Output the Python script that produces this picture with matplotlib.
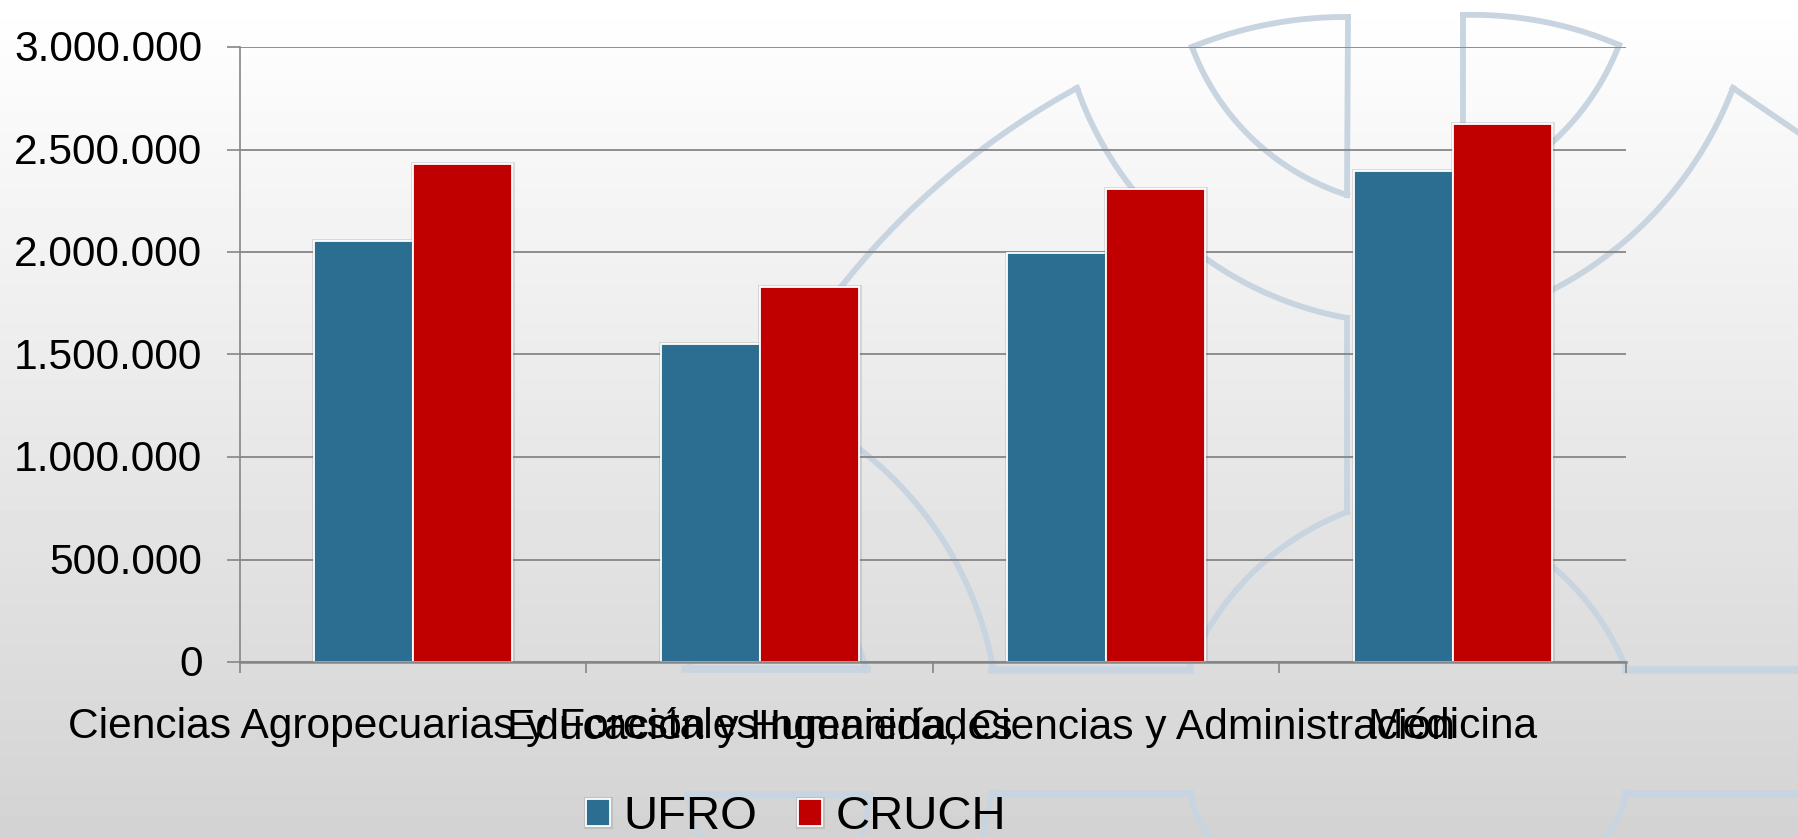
import numpy as np
import matplotlib
matplotlib.use("Agg")
import matplotlib.pyplot as plt
import matplotlib.patheffects as pe
from matplotlib.ticker import FuncFormatter
from matplotlib.transforms import ScaledTranslation

plt.rcParams['font.family'] = ['Liberation Sans', 'DejaVu Sans']

categories = ["Ciencias Agropecuarias y Forestales", "Educación y Humanidades",
              "Ingeniería, Ciencias y Administración", "Medicina"]
ufro = [2055000, 1552000, 1997000, 2397000]
cruch = [2429000, 1829000, 2307000, 2626000]
yticks = [0, 500000, 1000000, 1500000, 2000000, 2500000, 3000000]

W, H = 1799, 838
blue = "#2C6E91"
red = "#C00000"
grey = "#868686"
mark = "#C8D5E0"

fig = plt.figure(figsize=(W / 100, H / 100), dpi=100)

# background gradient and the watermark, both in picture pixels
bg = fig.add_axes([0, 0, 1, 1])
shade = np.linspace(255, 211, 256).reshape(-1, 1)
bg.imshow(shade, cmap="gray", vmin=0, vmax=255, aspect="auto", extent=[0, W, H, 0])
bg.set_xlim(0, W)
bg.set_ylim(H, 0)
bg.axis("off")

def circle_arc(p0, via, p1, n=40):
    # circle through the three points
    a = np.array([[p0[0] - via[0], p0[1] - via[1]], [p1[0] - via[0], p1[1] - via[1]]]) * 2.0
    b = np.array([p0[0]**2 + p0[1]**2 - via[0]**2 - via[1]**2, p1[0]**2 + p1[1]**2 - via[0]**2 - via[1]**2])
    cx, cy = np.linalg.solve(a, b)
    r = np.hypot(p0[0] - cx, p0[1] - cy)
    t0 = np.arctan2(p0[1] - cy, p0[0] - cx)
    tv = np.arctan2(via[1] - cy, via[0] - cx)
    t1 = np.arctan2(p1[1] - cy, p1[0] - cx)
    d1 = (tv - t0 + np.pi) % (2 * np.pi) - np.pi
    d2 = (t1 - tv + np.pi) % (2 * np.pi) - np.pi
    t = np.linspace(t0, t0 + d1 + d2, n)
    return cx + r * np.cos(t), cy + r * np.sin(t)

def draw_arcs(arcs, lw=4.2):
    for a in arcs:
        if len(a) == 2:
            xs, ys = [a[0][0], a[1][0]], [a[0][1], a[1][1]]
        else:
            xs, ys = circle_arc(*a)
        bg.plot(xs, ys, color=mark, lw=lw, solid_capstyle="projecting", scalex=False, scaley=False)

draw_arcs([
    # top pair
    [(1192, 47), (1265, 25), (1348, 17)],
    [(1348, 17), (1347, 195)],
    [(1347, 195), (1265, 150), (1192, 47)],
    [(1463, 15), (1545, 22), (1619, 45)],
    [(1463, 15), (1463, 195)],
    [(1619, 45), (1560, 135), (1463, 195)],
    # centre arm
    [(1077, 88), (985, 147), (841, 287)],
    [(841, 287), (760, 430), (690, 665)],
    [(1077, 88), (1131, 187), (1347, 318)],
    [(1347, 318), (1347, 512)],
    [(1347, 512), (1270, 557), (1189, 668)],
    [(840, 435), (953, 557), (993, 668)],
    [(867, 670), (858, 645)],
    # right arm
    [(1733, 88), (1660, 207), (1552, 290)],
    [(1733, 88), (1799, 133)],
    [(1553, 567), (1605, 627), (1626, 668)],
    # legend area
    [(1191, 793), (1198, 818), (1212, 838)],
    [(1626, 793), (1618, 818), (1603, 838)],
    [(993, 793), (986, 818), (983, 838)],
    [(688, 795), (693, 818), (700, 838)],
    [(870, 795), (866, 818), (862, 838)],
])
draw_arcs([
    [(685, 669), (867, 669)],
    [(992, 670), (1190, 670)],
    [(1626, 670), (1799, 670)],
    [(688, 795), (870, 795)],
    [(992, 794), (1190, 794)],
    [(1626, 794), (1799, 794)],
], lw=5.5)

# chart
ax = fig.add_axes([240 / W, 1 - 662 / H, (1626 - 240) / W, (662 - 47) / H])
ax.patch.set_alpha(0)
x = np.arange(len(categories))
width = 1 / 3.5
shadow = [pe.Stroke(linewidth=3.6, foreground="#707070", alpha=0.2), pe.Normal()]
b1 = ax.bar(x - width / 2, ufro, width, color=blue, edgecolor="white", linewidth=1.3, label="UFRO", path_effects=shadow, zorder=2)
b2 = ax.bar(x + width / 2, cruch, width, color=red, edgecolor="white", linewidth=1.3, label="CRUCH", path_effects=shadow, zorder=2)

ax.set_xlim(-0.5, len(categories) - 0.5)
ax.set_ylim(0, 3000000)
ax.set_axisbelow(True)
ax.yaxis.grid(True, color=grey, lw=1.3)
ax.set_yticks(yticks)
ax.yaxis.set_major_formatter(FuncFormatter(lambda v, pos: f"{v:,.0f}".replace(",", ".")))
ax.tick_params(axis="y", length=9.4, width=1.2, color=grey, pad=17.6, labelsize=30.6)
up = ScaledTranslation(0, 1.2 / 100, fig.dpi_scale_trans)
for lab in ax.get_yticklabels():
    lab.set_transform(lab.get_transform() + up)

ax.set_xticks(np.arange(len(categories) + 1) - 0.5)
ax.set_xticklabels([])
ax.set_xticks(x, categories, minor=True)
ax.tick_params(axis="x", which="major", length=8, width=1.2, color=grey)
ax.tick_params(axis="x", which="minor", length=0, pad=32.5, labelsize=30.6)

for s in ["top", "right"]:
    ax.spines[s].set_visible(False)
ax.spines["left"].set_color(grey)
ax.spines["left"].set_linewidth(1.2)
ax.spines["bottom"].set_color(grey)
ax.spines["bottom"].set_linewidth(1.8)

fig.legend(handles=[b1, b2], loc="center", bbox_to_anchor=(796 / W, 1 - 817 / H), ncol=2, frameon=False,
           fontsize=34, handlelength=0.51, handleheight=0.51, handletextpad=0.28, columnspacing=0.87,
           borderpad=0, labelspacing=0)

fig.savefig("out.png", dpi=100)
